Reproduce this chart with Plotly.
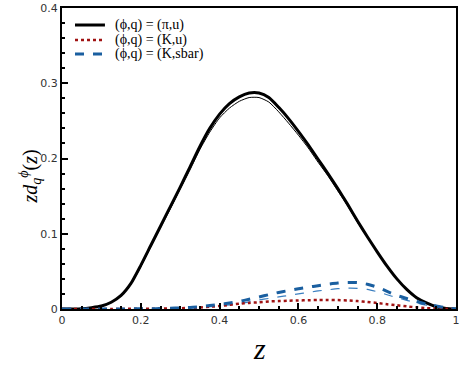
import plotly.graph_objects as go

# z grid shared by all curves
z = [0, 0.025, 0.05, 0.075, 0.1, 0.125, 0.15, 0.175, 0.2, 0.225,
     0.25, 0.275, 0.3, 0.325, 0.35, 0.375, 0.4, 0.425, 0.45, 0.475,
     0.5, 0.525, 0.55, 0.575, 0.6, 0.625, 0.65, 0.675, 0.7, 0.725,
     0.75, 0.775, 0.8, 0.825, 0.85, 0.875, 0.9, 0.925, 0.95, 0.975, 1.0]

# (phi,q) = (pi,u), thick and thin
pi_u = [0, 0, 0.0003, 0.0018, 0.004, 0.009, 0.018, 0.034, 0.058, 0.084,
        0.110, 0.136, 0.162, 0.189, 0.216, 0.240, 0.259, 0.273, 0.282, 0.287,
        0.287, 0.281, 0.268, 0.253, 0.236, 0.218, 0.199, 0.180, 0.160, 0.139,
        0.117, 0.096, 0.076, 0.057, 0.040, 0.026, 0.015, 0.008, 0.003, 0.0008, 0]
pi_u_thin = [0, 0, 0.0003, 0.0017, 0.004, 0.009, 0.017, 0.033, 0.056, 0.082,
             0.108, 0.133, 0.159, 0.185, 0.212, 0.235, 0.254, 0.267, 0.276, 0.281,
             0.281, 0.275, 0.262, 0.247, 0.231, 0.214, 0.195, 0.177, 0.157, 0.137,
             0.115, 0.095, 0.075, 0.056, 0.040, 0.026, 0.015, 0.008, 0.003, 0.0008, 0]

# (phi,q) = (K,u)
k_u = [0, 0, 0, 0, 0, 0.0001, 0.0001, 0.0002, 0.0003, 0.0004,
       0.0006, 0.0008, 0.001, 0.0015, 0.002, 0.003, 0.004, 0.0055, 0.007, 0.008,
       0.009, 0.010, 0.0105, 0.011, 0.0113, 0.0117, 0.0119, 0.012, 0.0118, 0.0113,
       0.0105, 0.0093, 0.008, 0.0063, 0.005, 0.0035, 0.0022, 0.0012, 0.0006, 0.0002, 0]

# (phi,q) = (K,sbar), thick and thin
k_sbar = [0, 0, 0, 0, 0, 0.0001, 0.0001, 0.0002, 0.0003, 0.0004,
          0.0006, 0.001, 0.0015, 0.002, 0.003, 0.0045, 0.006, 0.008, 0.010, 0.013,
          0.016, 0.019, 0.022, 0.0245, 0.027, 0.029, 0.031, 0.033, 0.0345, 0.0352,
          0.035, 0.033, 0.029, 0.0235, 0.018, 0.014, 0.010, 0.0065, 0.004, 0.0015, 0]
k_sbar_thin = [0, 0, 0, 0, 0, 0, 0.0001, 0.0001, 0.0002, 0.0003,
               0.0004, 0.0007, 0.001, 0.0015, 0.002, 0.003, 0.004, 0.0055, 0.007, 0.0095,
               0.012, 0.014, 0.016, 0.018, 0.020, 0.022, 0.024, 0.0255, 0.027, 0.0277,
               0.0275, 0.026, 0.023, 0.019, 0.015, 0.0115, 0.008, 0.005, 0.003, 0.001, 0]

legend_labels = ["(\u03d5,q) = (\u03c0,u)", "(\u03d5,q) = (K,u)", "(\u03d5,q) = (K,sbar)"]

black = "#000000"
red = "#a01212"
blue = "#1a5fa0"

fig = go.Figure()

#Thin companion curves first
fig.add_trace(go.Scatter(x=z, y=pi_u_thin, mode="lines", line_shape="spline",
    line=dict(color=black, width=1, smoothing=0.6), showlegend=False))
fig.add_trace(go.Scatter(x=z, y=k_sbar_thin, mode="lines", line_shape="spline",
    line=dict(color="#3b7fc0", width=1.2, dash="dash", smoothing=0.6), showlegend=False))

#Thick curves
styles = [dict(color=black, width=3),
          dict(color=red, width=2.5, dash="dot"),
          dict(color=blue, width=3, dash="dash")]
for series, style, label in zip([pi_u, k_u, k_sbar], styles, legend_labels):
    fig.add_trace(go.Scatter(x=z, y=series, mode="lines", line_shape="spline",
        line=dict(smoothing=0.6, **style), name=label, showlegend=False))

#Compact legend drawn by hand (plotly's own rows are too tall)
legend_rows = [0.9435, 0.8937, 0.8472]
for row_y, style, label in zip(legend_rows, styles, legend_labels):
    fig.add_shape(type="line", xref="paper", yref="paper",
        x0=0.033, x1=0.109, y0=row_y, y1=row_y, line=style)
    fig.add_annotation(text=label, xref="paper", yref="paper", x=0.129, y=row_y,
        xanchor="left", yanchor="middle", showarrow=False,
        font=dict(family="Liberation Serif", size=14, color="black"))

axis_common = dict(
    showline=True, linecolor="black", linewidth=2, mirror=True,
    ticks="inside", ticklen=6, tickwidth=1.5, tickcolor="black",
    showgrid=False, zeroline=False, automargin=False,
    ticklabeloverflow="allow",
    tickfont=dict(family="DejaVu Sans", size=11, color="#333333"),
)

fig.update_xaxes(range=[0, 1], tickvals=[0, 0.2, 0.4, 0.6, 0.8, 1],
    ticktext=["0", "0.2", "0.4", "0.6", "0.8", "1"],
    minor=dict(dtick=0.05, ticks="inside", ticklen=3, tickcolor="black"),
    **axis_common)
fig.update_yaxes(range=[0, 0.4], tickvals=[0, 0.1, 0.2, 0.3, 0.4],
    ticktext=["0", "0.1", "0.2", "0.3", "0.4"],
    minor=dict(dtick=0.02, ticks="inside", ticklen=3, tickcolor="black"),
    **axis_common)

#Axis titles placed as annotations for exact positions
fig.add_annotation(text="<i>z</i>", xref="paper", yref="paper", x=0.5, y=0,
    xanchor="center", yanchor="middle", yshift=-39, showarrow=False,
    font=dict(family="Liberation Serif", size=30, color="black"))
fig.add_annotation(text="<i>zd</i><sub><i>q</i></sub><sup><i>\u03d5</i></sup>(<i>z</i>)",
    xref="paper", yref="paper", x=0, y=0.44, xanchor="center", yanchor="middle",
    xshift=-32, textangle=-90, showarrow=False,
    font=dict(family="Liberation Serif", size=20, color="black"))

fig.update_layout(
    width=463, height=371,
    margin=dict(l=62, r=7, t=8, b=62),
    plot_bgcolor="white", paper_bgcolor="white",
    showlegend=False,
)

#Page body has a default 8px margin; drop it so the figure sits at the window corner
fig.write_html("out.html", config={"displayModeBar": False},
    post_script="document.body.style.margin='0';")
